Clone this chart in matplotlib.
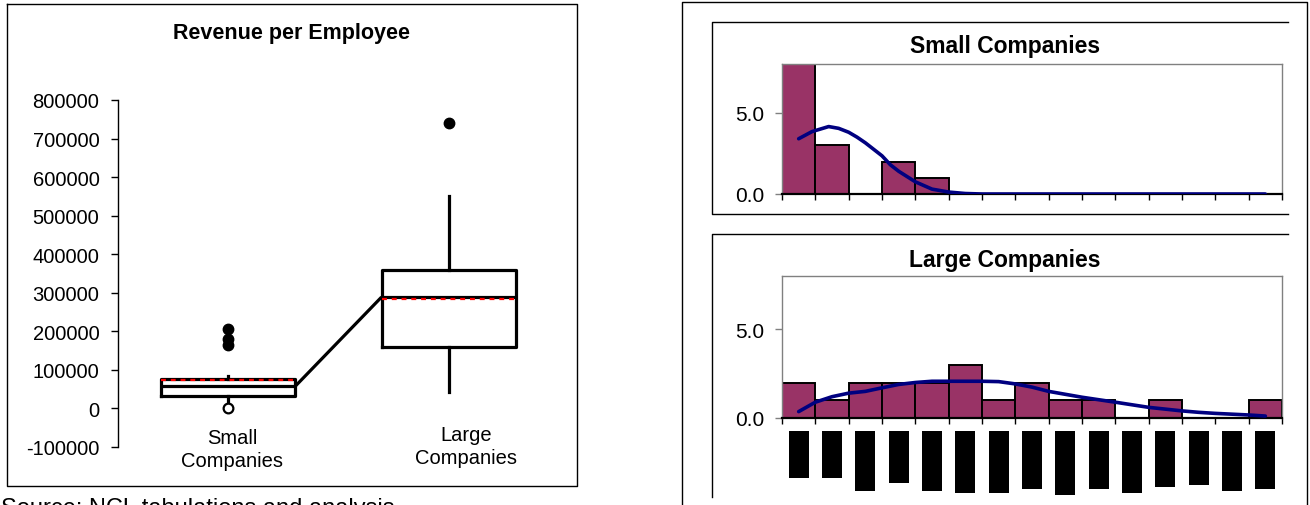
import numpy as np
import matplotlib
matplotlib.use("Agg")
import matplotlib.pyplot as plt
from matplotlib.lines import Line2D

plt.rcParams["font.family"] = ["Liberation Sans", "DejaVu Sans"]

# ---- Revenue per employee summary statistics ----
groups = ["Small\nCompanies", "Large\nCompanies"]
q1 = [32000, 160000]
median = [58000, 289000]
q3 = [77000, 358000]
mean = [73500, 283000]
whisker_low = [12000, 42000]
whisker_high = [84000, 550000]
outliers_high = [[205000, 180000, 165000], [740000]]
outliers_low = [[1000], []]
yticks_box = [-100000, 0, 100000, 200000, 300000, 400000, 500000, 600000, 700000, 800000]

# ---- Histograms (15 revenue classes) ----
n_bins = 15
small_counts = [8, 3, 0, 2, 1, 0, 0, 0, 0, 0, 0, 0, 0, 0, 0]
large_counts = [2, 1, 2, 2, 2, 3, 1, 2, 1, 1, 0, 1, 0, 0, 1]

# fitted normal curves (in class units)
small_curve_x = [0.5, 0.9, 1.4, 1.7, 2.0, 2.25, 2.5, 2.75, 3.0, 3.25, 3.5, 4.0, 4.5, 5.0,
                 5.5, 6.0, 7.0, 8.0, 9.0, 10.0, 11.0, 12.0, 13.0, 14.0, 14.5]
small_curve_y = [3.4, 3.84, 4.15, 4.04, 3.8, 3.5, 3.15, 2.75, 2.35, 1.8, 1.4, 0.75, 0.3, 0.12,
                 0.03, 0.0, 0.0, 0.0, 0.0, 0.0, 0.0, 0.0, 0.0, 0.0, 0.0]
large_curve_x = [0.5, 1.0, 1.5, 2.0, 2.5, 3.0, 3.5, 4.0, 4.5, 5.0, 6.0, 6.5, 7.0, 7.5,
                 8.0, 9.0, 10.0, 11.0, 12.0, 12.5, 13.0, 14.0, 14.5]
large_curve_y = [0.36, 0.89, 1.2, 1.4, 1.5, 1.7, 1.89, 2.0, 2.07, 2.07, 2.07, 2.05, 1.92, 1.74,
                 1.5, 1.17, 0.89, 0.6, 0.4, 0.32, 0.26, 0.17, 0.11]

# depth (px) of the rotated class labels under the lower histogram
label_block_px = [47, 47, 60, 52, 60, 62, 62, 58, 64, 58, 62, 56, 54, 60, 58]

W, H = 1310, 506
fig = plt.figure(figsize=(W / 100, H / 100), dpi=100)


def rect(x0, y0, x1, y1):
    """Figure rect from pixel box (top-left origin)."""
    return [x0 / W, 1 - y1 / H, (x1 - x0) / W, (y1 - y0) / H]


def fline(xs, ys, **kw):
    fig.add_artist(Line2D([x / W for x in xs], [1 - y / H for y in ys],
                          transform=fig.transFigure, color="black", lw=1.0, **kw))


# ---------------- Box plot ----------------
ax = fig.add_axes(rect(117.5, 101, 559.5, 448))
stats = []
for i in range(len(groups)):
    stats.append(dict(med=median[i], q1=q1[i], q3=q3[i], mean=mean[i],
                      whislo=whisker_low[i], whishi=whisker_high[i], fliers=[]))
positions = [1, 2]
lw_box = 2.3
ax.bxp(stats, positions=positions, widths=0.61, showcaps=False, showfliers=False,
       showmeans=True, meanline=True,
       boxprops=dict(color="black", lw=lw_box),
       whiskerprops=dict(color="black", lw=lw_box),
       medianprops=dict(color="black", lw=lw_box),
       meanprops=dict(color="#ff0000", lw=1.6, linestyle=(0, (2.2, 2.2))),
       patch_artist=False)
for i, p in enumerate(positions):
    if outliers_high[i]:
        ax.plot([p] * len(outliers_high[i]), outliers_high[i], "o", color="black",
                ms=7.5, zorder=3)
    if outliers_low[i]:
        ax.plot([p] * len(outliers_low[i]), outliers_low[i], "o", mfc="white",
                mec="black", mew=1.6, ms=7, zorder=3)
# median-to-median connector
half = 0.61 / 2
ax.plot([positions[0] + half, positions[1] - half], [median[0], median[1]],
        color="black", lw=lw_box, solid_capstyle="butt")

ax.set_xlim(0.5, 2.5)
ax.set_ylim(-100000, 800000)
ax.set_yticks(yticks_box)
ax.set_yticklabels([str(v) for v in yticks_box], fontsize=14.5)
ax.tick_params(axis="y", length=5, width=1, pad=8, color="black")
ax.set_xticks([])
for s in ["top", "right", "bottom"]:
    ax.spines[s].set_visible(False)
ax.spines["left"].set_linewidth(1.0)
ax.patch.set_alpha(0)

label_offsets = [(3, -29.2), (12.2, -27)]
for i, p in enumerate(positions):
    ax.annotate(groups[i], xy=(p, 0), xytext=label_offsets[i], textcoords="offset points",
                ha="center", va="center", fontsize=14.5, linespacing=1.25,
                annotation_clip=False)

fig.text(291.5 / W, 1 - 34 / H, "Revenue per Employee", ha="center", va="center",
         fontsize=15.5, fontweight="bold")

# left panel frame
fline([7, 577, 577, 7, 7], [5, 5, 487, 487, 5])
fig.text(1 / W, 1 - 498 / H, "Source: NCL tabulations and analysis", ha="left", va="top",
         fontsize=17)

# ---------------- Histograms ----------------
bar_color = "#993366"
curve_color = "#000080"
centers = np.arange(n_bins) + 0.5
edges = np.arange(n_bins + 1)


def hist_axes(box, counts, cx, cy):
    h = fig.add_axes(rect(*box))
    h.bar(centers, counts, width=1.0, color=bar_color, edgecolor="black", lw=1.4, zorder=2)
    h.plot(cx, cy, color=curve_color, lw=2.6, zorder=3, solid_capstyle="round",
           solid_joinstyle="round")
    h.set_xlim(0, n_bins)
    h.set_ylim(0, 8)
    h.set_yticks([0, 5])
    h.set_yticklabels(["0.0", "5.0"], fontsize=15)
    h.tick_params(axis="y", length=5, width=1, color="#808080", pad=8)
    h.set_xticks(edges)
    h.set_xticklabels([])
    h.tick_params(axis="x", length=4, width=1, color="black", direction="out")
    for s in ["top", "right", "left"]:
        h.spines[s].set_color("#808080")
        h.spines[s].set_linewidth(1.0)
    h.spines["bottom"].set_color("black")
    h.spines["bottom"].set_linewidth(1.6)
    return h


hs = hist_axes((782, 65, 1282, 195), small_counts, small_curve_x, small_curve_y)
hl = hist_axes((782, 277, 1282, 419), large_counts, large_curve_x, large_curve_y)

# rotated class labels under the lower histogram, rendered as solid blocks
px_per_unit = (419 - 277) / 8
top = -12.5 / px_per_unit
hl.bar(centers, [-d / px_per_unit for d in label_block_px], width=0.6, bottom=top,
       color="black", lw=0, clip_on=False, zorder=1)

fig.text(1005 / W, 1 - 47 / H, "Small Companies", ha="center", va="center",
         fontsize=16.5, fontweight="bold")
fig.text(1005 / W, 1 - 261 / H, "Large Companies", ha="center", va="center",
         fontsize=16.5, fontweight="bold")

# panel frames
fline([682, 682, 1307, 1307], [506, 3, 3, 506])
fline([1288, 712, 712, 1288], [23, 23, 215, 215])
fline([1288, 712, 712], [235, 235, 498])

fig.savefig("out.png", dpi=100)
